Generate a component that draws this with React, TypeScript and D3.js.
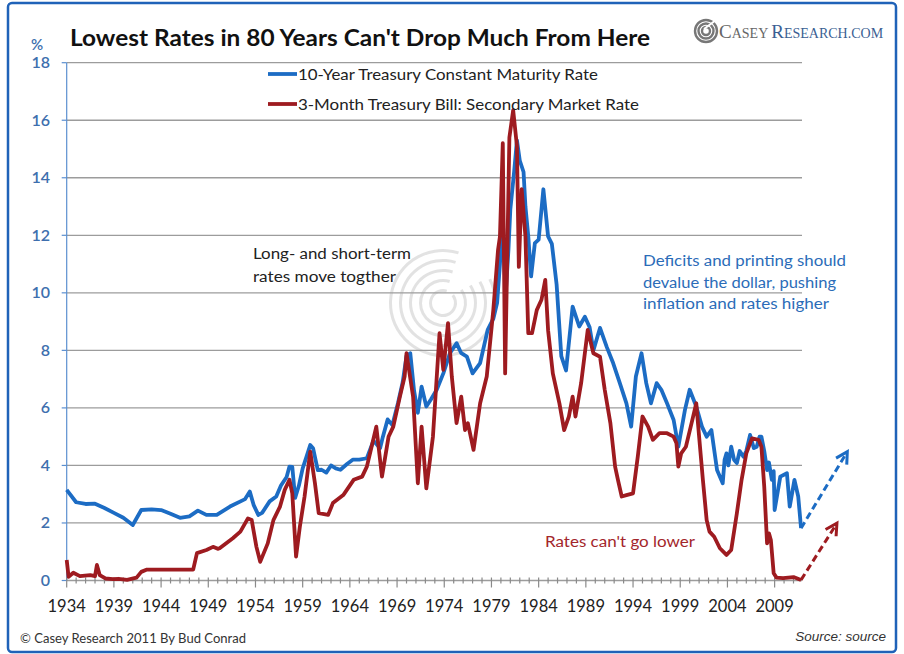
import React from "react";
import * as d3 from "d3";

// 10-Year Treasury Constant Maturity Rate (%)
const tenYearDates = [
  1934.0, 1935.0, 1936.0, 1937.0, 1938.0, 1939.0, 1940.0, 1941.0, 1941.9, 1943.0,
  1944.0, 1945.0, 1946.0, 1947.0, 1947.9, 1948.8, 1949.9, 1951.3, 1952.9, 1953.4,
  1953.8, 1954.3, 1954.7, 1955.5, 1956.2, 1956.7, 1957.3, 1957.6, 1957.9, 1958.2,
  1958.6, 1959.0, 1959.4, 1959.8, 1960.1, 1960.6, 1961.0, 1961.5, 1962.0, 1962.5,
  1963.0, 1963.7, 1964.3, 1965.0, 1965.8, 1966.5, 1967.2, 1967.5, 1968.0, 1968.5,
  1969.1, 1969.6, 1970.0, 1970.4, 1970.8, 1971.2, 1971.6, 1972.1, 1972.6, 1973.2,
  1973.9, 1974.6, 1975.3, 1975.8, 1976.4, 1977.0, 1977.8, 1978.6, 1979.2, 1979.6,
  1979.9, 1980.2, 1980.5, 1980.8, 1981.0, 1981.4, 1981.7, 1982.0, 1982.4, 1982.6,
  1982.9, 1983.2, 1983.6, 1984.0, 1984.5, 1985.0, 1985.4, 1985.9, 1986.4, 1986.9,
  1987.6, 1988.3, 1988.9, 1989.4, 1989.8, 1990.5, 1991.2, 1991.9, 1992.6, 1993.3,
  1993.8, 1994.3, 1994.9, 1995.4, 1995.9, 1996.5, 1997.0, 1997.6, 1998.3, 1998.8,
  1999.5, 2000.0, 2000.7, 2001.3, 2001.8, 2002.3, 2002.9, 2003.5, 2003.7, 2003.9,
  2004.1, 2004.4, 2004.7, 2005.0, 2005.3, 2005.7, 2006.0, 2006.4, 2006.8, 2007.1,
  2007.4, 2007.6, 2007.9, 2008.2, 2008.4, 2008.7, 2008.9, 2009.0, 2009.6, 2010.3,
  2010.6, 2011.1, 2011.5, 2011.8,
];
const tenYearRates = [
  3.15, 2.72, 2.66, 2.67, 2.52, 2.35, 2.18, 1.93, 2.45, 2.47,
  2.45, 2.32, 2.18, 2.23, 2.43, 2.28, 2.28, 2.57, 2.83, 3.09,
  2.63, 2.28, 2.35, 2.75, 2.92, 3.3, 3.6, 3.96, 3.95, 2.87,
  3.3, 3.9, 4.3, 4.71, 4.6, 3.84, 3.85, 3.75, 4.0, 3.9,
  3.85, 4.05, 4.2, 4.2, 4.25, 4.86, 4.6, 5.0, 5.6, 5.4,
  6.17, 6.9, 7.8, 7.9, 6.6, 5.83, 6.74, 6.05, 6.3, 6.63,
  7.2, 7.9, 8.25, 7.9, 7.78, 7.2, 7.56, 8.71, 9.1, 9.65,
  11.0, 12.6, 9.9, 11.5, 12.9, 14.2, 15.3, 14.6, 14.2, 13.0,
  11.96, 10.57, 11.73, 11.85, 13.6, 11.96, 11.7, 10.3, 7.8, 7.3,
  9.52, 8.83, 9.17, 8.8, 8.0, 8.78, 8.13, 7.55, 6.86, 6.16,
  5.35, 7.09, 7.9, 6.86, 6.16, 6.86, 6.63, 6.16, 5.58, 4.65,
  5.93, 6.63, 6.05, 5.35, 5.0, 5.23, 3.84, 3.38, 4.2, 4.42,
  4.0, 4.65, 4.2, 4.08, 4.5, 4.3, 4.5, 5.06, 4.6, 4.65,
  5.0, 5.0, 4.5, 3.84, 4.1, 3.5, 3.8, 2.45, 3.61, 3.73,
  2.57, 3.5, 2.92, 1.82,
];

// 3-Month Treasury Bill: Secondary Market Rate (%)
const billDates = [
  1934.0, 1934.2, 1934.7, 1935.4, 1936.5, 1937.0, 1937.2, 1937.5, 1938.1, 1938.9,
  1939.5, 1940.4, 1941.4, 1941.9, 1942.5, 1947.4, 1947.8, 1948.8, 1949.5, 1950.0,
  1950.2, 1951.6, 1952.4, 1953.2, 1953.6, 1954.1, 1954.5, 1954.8, 1955.3, 1955.9,
  1956.6, 1957.1, 1957.6, 1957.9, 1958.3, 1958.7, 1959.2, 1959.8, 1960.3, 1960.7,
  1961.7, 1962.2, 1963.3, 1964.4, 1965.3, 1965.8, 1966.3, 1966.8, 1967.4, 1968.1,
  1968.6, 1969.3, 1969.8, 1970.0, 1970.7, 1971.2, 1971.6, 1972.1, 1972.8, 1973.5,
  1973.9, 1974.4, 1974.8, 1975.3, 1975.8, 1976.2, 1976.5, 1977.1, 1977.8, 1978.5,
  1979.2, 1979.7, 1979.9, 1980.2, 1980.45, 1980.9, 1981.3, 1981.7, 1981.9, 1982.2,
  1982.6, 1982.9, 1983.3, 1983.8, 1984.3, 1984.7, 1985.0, 1985.5, 1986.2, 1986.7,
  1987.2, 1987.6, 1987.9, 1988.5, 1989.2, 1989.8, 1990.5, 1991.0, 1991.6, 1992.1,
  1992.4, 1992.8, 1993.3, 1994.0, 1994.5, 1995.0, 1995.6, 1996.1, 1996.8, 1997.6,
  1998.3, 1998.6, 1998.8, 1999.1, 1999.6, 2000.2, 2000.7, 2001.0, 2001.4, 2001.8,
  2002.1, 2002.6, 2003.2, 2003.9, 2004.4, 2005.0, 2005.5, 2006.0, 2006.6, 2007.3,
  2007.6, 2007.9, 2008.2, 2008.4, 2008.6, 2008.9, 2009.2, 2009.9, 2011.0, 2011.8,
];
const billRates = [
  0.71, 0.13, 0.27, 0.15, 0.19, 0.15, 0.54, 0.19, 0.07, 0.05,
  0.06, 0.02, 0.1, 0.3, 0.38, 0.38, 0.95, 1.06, 1.17, 1.1,
  1.12, 1.47, 1.7, 2.16, 2.1, 1.17, 0.65, 0.89, 1.29, 2.1,
  2.57, 3.15, 3.5, 3.03, 0.83, 1.87, 2.92, 4.48, 3.38, 2.34,
  2.28, 2.69, 2.97, 3.5, 3.61, 3.96, 4.65, 5.35, 3.61, 5.0,
  5.35, 6.39, 7.09, 7.9, 6.39, 3.38, 5.35, 3.2, 5.0, 8.6,
  7.32, 8.95, 7.09, 5.47, 6.39, 5.23, 5.47, 4.54, 6.16, 7.09,
  9.41, 11.5, 11.96, 15.2, 7.2, 15.4, 16.35, 15.1, 10.9, 13.6,
  11.96, 8.6, 8.6, 9.4, 9.76, 10.45, 8.7, 7.2, 6.16, 5.23,
  5.7, 6.39, 5.7, 6.86, 8.71, 7.9, 7.78, 6.63, 5.47, 3.96,
  3.5, 2.92, 2.97, 3.03, 4.3, 5.7, 5.35, 4.89, 5.12, 5.12,
  5.0, 4.77, 3.96, 4.42, 4.65, 5.47, 6.16, 5.0, 3.5, 2.1,
  1.7, 1.52, 1.12, 0.89, 1.06, 2.34, 3.5, 4.42, 4.94, 4.89,
  4.65, 3.26, 1.29, 1.64, 1.41, 0.25, 0.1, 0.08, 0.12, 0.02,
];

// Projected direction of rates (dashed arrows)
const tenYearOutlook = [
  [2011.8, 1.82],
  [2016.7, 4.48],
];
const billOutlook = [
  [2011.8, 0.02],
  [2015.6, 1.99],
];

const yTicks = [0, 2, 4, 6, 8, 10, 12, 14, 16, 18];
const xLabelYears = [1934, 1939, 1944, 1949, 1954, 1959, 1964, 1969, 1974, 1979, 1984, 1989, 1994, 1999, 2004, 2009];
const minorYears = d3.range(1934, 2012);

const legendLabels = [
  "10-Year Treasury Constant Maturity Rate",
  "3-Month Treasury Bill: Secondary Market Rate",
];

const BLUE = "#1c6cc4";
const RED = "#9e1b20";
const SANS = "Lato, 'Open Sans', sans-serif";
const LINE_W = 3.8;

const W = 904;
const H = 654;

const x = d3.scaleLinear().domain([1934, 2011.9]).range([66.7, 802]);
const y = d3.scaleLinear().domain([0, 18]).range([580.5, 62.7]);

const line = d3
  .line<[number, number]>()
  .x((d) => x(d[0]))
  .y((d) => y(d[1]));

function Arrow({ pts, color }: { pts: number[][]; color: string }) {
  const [a, b] = pts;
  const x1 = x(a[0]);
  const y1 = y(a[1]);
  const x2 = x(b[0]);
  const y2 = y(b[1]);
  const ang = Math.atan2(y2 - y1, x2 - x1);
  const len = 13;
  const spread = 0.5;
  const p1 = [x2 - len * Math.cos(ang - spread), y2 - len * Math.sin(ang - spread)];
  const p2 = [x2 - len * Math.cos(ang + spread), y2 - len * Math.sin(ang + spread)];
  return (
    <g stroke={color} fill="none" strokeWidth={3}>
      <line x1={x1} y1={y1} x2={x2 - 2 * Math.cos(ang)} y2={y2 - 2 * Math.sin(ang)} strokeDasharray="7 4" />
      <polyline points={`${p1[0]},${p1[1]} ${x2},${y2} ${p2[0]},${p2[1]}`} strokeLinejoin="miter" />
    </g>
  );
}

export default function App() {
  const tenYear = tenYearDates.map((d, i) => [d, tenYearRates[i]] as [number, number]);
  const bills = billDates.map((d, i) => [d, billRates[i]] as [number, number]);
  const x0 = x.range()[0];
  const x1 = x.range()[1];

  // faint spiral emblem behind the plot
  const wmCx = 443;
  const wmCy = 303;
  const arc = d3.arc();

  return (
    <svg
      width={W}
      height={H}
      viewBox={`0 0 ${W} ${H}`}
      style={{ position: "absolute", left: 0, top: 0, background: "#fff" }}
    >
      <rect x={0} y={0} width={W} height={H} fill="#fff" />
      <rect x={8} y={3} width={888} height={649} rx={4} fill="none" stroke="#1f62b8" strokeWidth={2.5} />

      {/* emblem */}
      <g transform={`translate(${wmCx},${wmCy})`} fill="#dcdcdc" opacity={0.8}>
        {[14, 24, 34, 44, 54].map((r, i) => (
          <path
            key={r}
            d={
              arc({
                innerRadius: r - 3,
                outerRadius: r,
                startAngle: 0.9 + i * 0.05,
                endAngle: Math.PI * 2 + 0.3,
              }) || ""
            }
          />
        ))}
      </g>

      {/* title */}
      <text x={70} y={46} fontFamily={SANS} fontWeight={700} fontSize={22} fill="#111" textLength={580} lengthAdjust="spacingAndGlyphs">
        Lowest Rates in 80 Years Can't Drop Much From Here
      </text>

      {/* logo */}
      <g transform="translate(706,31)">
        {[4, 7.5, 11].map((r) => (
          <circle key={r} r={r} fill="none" stroke="#777" strokeWidth={2.4} />
        ))}
        <path d="M-2,-2 L10,-11" stroke="#fff" strokeWidth={2} />
      </g>
      <text x={719} y={38} fontFamily="'Liberation Serif', 'DejaVu Serif', serif" fontSize={19} fill="#666">
        C<tspan fontSize={14}>ASEY </tspan>
        <tspan fill="#3b5f93">R</tspan>
        <tspan fill="#3b5f93" fontSize={14}>ESEARCH.COM</tspan>
      </text>

      {/* gridlines */}
      <g stroke="#9c9c9c" strokeWidth={1.3}>
        {yTicks.map((t) => (
          <line key={t} x1={x0} x2={x1} y1={y(t)} y2={y(t)} />
        ))}
      </g>

      {/* y axis */}
      <line x1={x0} x2={x0} y1={y(18)} y2={y(0)} stroke="#5b8fd0" strokeWidth={1.2} />
      <g stroke="#5b8fd0" strokeWidth={1.2}>
        {yTicks.map((t) => (
          <line key={t} x1={x0 - 5} x2={x0} y1={y(t)} y2={y(t)} />
        ))}
      </g>
      <g fontFamily={SANS} fontSize={16} fontWeight={600} fill="#3e6fae" textAnchor="end">
        {yTicks.map((t) => (
          <text key={t} x={50} y={y(t) + 5.5}>
            {t}
          </text>
        ))}
      </g>
      <text x={31} y={50} fontFamily={SANS} fontSize={15} fontWeight={600} fill="#3e6fae">
        %
      </text>

      {/* x axis ticks */}
      <g stroke="#8a8a8a" strokeWidth={1.2}>
        {minorYears.map((yr) => (
          <line key={yr} x1={x(yr)} x2={x(yr)} y1={y(0) - 3} y2={y(0) + (xLabelYears.includes(yr) ? 7 : 3)} />
        ))}
      </g>
      <g fontFamily={SANS} fontSize={16.5} fill="#222" textAnchor="middle">
        {xLabelYears.map((yr) => (
          <text key={yr} x={x(yr)} y={612}>
            {yr}
          </text>
        ))}
      </g>

      {/* series */}
      <path d={line(tenYear) || ""} fill="none" stroke={BLUE} strokeWidth={LINE_W} strokeLinejoin="round" />
      <path d={line(bills) || ""} fill="none" stroke={RED} strokeWidth={LINE_W} strokeLinejoin="round" />

      <Arrow pts={tenYearOutlook} color={BLUE} />
      <Arrow pts={billOutlook} color={RED} />

      {/* legend */}
      <line x1={268} x2={297} y1={74} y2={74} stroke={BLUE} strokeWidth={LINE_W} />
      <text x={298} y={80} fontFamily={SANS} fontSize={16} fill="#222" textLength={300} lengthAdjust="spacingAndGlyphs">
        {legendLabels[0]}
      </text>
      <line x1={268} x2={297} y1={104} y2={104} stroke={RED} strokeWidth={LINE_W} />
      <text x={298} y={110} fontFamily={SANS} fontSize={16} fill="#222" textLength={341} lengthAdjust="spacingAndGlyphs">
        {legendLabels[1]}
      </text>

      {/* annotations */}
      <g fontFamily={SANS} fontSize={15.5} fill="#222">
        <text x={253} y={259} textLength={158} lengthAdjust="spacingAndGlyphs">Long- and short-term</text>
        <text x={253} y={282} textLength={143} lengthAdjust="spacingAndGlyphs">rates move togther</text>
      </g>
      <g fontFamily={SANS} fontSize={15.5} fill="#2b6cb8">
        <text x={643} y={266} textLength={203} lengthAdjust="spacingAndGlyphs">Deficits and printing should</text>
        <text x={643} y={288} textLength={193} lengthAdjust="spacingAndGlyphs">devalue the dollar, pushing</text>
        <text x={643} y={309} textLength={186} lengthAdjust="spacingAndGlyphs">inflation and rates higher</text>
      </g>
      <text x={545} y={547} fontFamily={SANS} fontSize={15.5} fill="#a3262b" textLength={150} lengthAdjust="spacingAndGlyphs">
        Rates can't go lower
      </text>

      {/* footer */}
      <text x={20} y={643} fontFamily={SANS} fontSize={13.5} fill="#333" textLength={226} lengthAdjust="spacingAndGlyphs">
        © Casey Research 2011 By Bud Conrad
      </text>
      <text x={886} y={641} textAnchor="end" fontFamily="'Liberation Sans', Arial, sans-serif" fontStyle="italic" fontSize={13.5} fill="#333">
        Source: source
      </text>
    </svg>
  );
}
